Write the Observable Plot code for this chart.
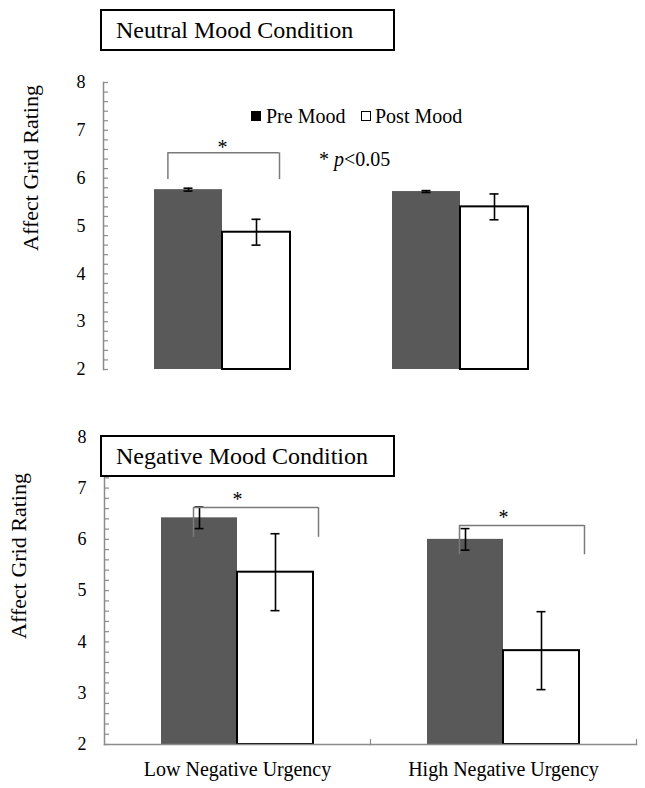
<!DOCTYPE html>
<html><head><meta charset="utf-8">
<script src="https://cdn.jsdelivr.net/npm/d3@7"></script>
<script src="https://cdn.jsdelivr.net/npm/@observablehq/plot@0.6"></script>
<style>
body{margin:0;background:#fff;font-family:"Liberation Serif","Times New Roman",serif;color:#000}
#wrap{position:relative;width:645px;height:788px;overflow:hidden;background:#fff;font-family:"Liberation Serif","Times New Roman",serif}
.panel{position:absolute;left:0}
.panel text{font-family:"Liberation Serif","Times New Roman",serif}
.box{position:absolute;border:2px solid #000;background:#fff;box-sizing:border-box;display:flex;align-items:center;padding-left:14px;font-size:24px;white-space:nowrap;font-family:"Liberation Serif","Times New Roman",serif}
.ylab{position:absolute;font-size:22px;line-height:22px;white-space:nowrap;transform:translate(-50%,-50%) rotate(-90deg);font-family:"Liberation Serif","Times New Roman",serif}
.note{position:absolute;font-size:20px;line-height:20px;white-space:nowrap;font-family:"Liberation Serif","Times New Roman",serif}
.sw{position:absolute;box-sizing:border-box}
</style></head><body>
<div id="wrap"></div>
<script>
// ---- data ----
const groups = ["Low Negative Urgency", "High Negative Urgency"];
const series = ["Pre Mood", "Post Mood"];
const yDomain = [2, 8];
const yTickLabels = [2, 3, 4, 5, 6, 7, 8];

const neutralPre = [5.76, 5.72];
const neutralPreErr = [0.03, 0.02];
const neutralPost = [4.87, 5.40];
const neutralPostErr = [0.27, 0.27];

const negativePre = [6.42, 6.00];
const negativePreErr = [0.21, 0.21];
const negativePost = [5.36, 3.83];
const negativePostErr = [0.75, 0.76];

const neutralBrackets = [
  {group: groups[0], from: series[0], to: series[1], top: 6.53, foot: 5.97}
];
const negativeBrackets = [
  {group: groups[0], from: series[0], to: series[1], top: 6.62, foot: 6.04},
  {group: groups[1], from: series[0], to: series[1], top: 6.27, foot: 5.70}
];

const titles = ["Neutral Mood Condition", "Negative Mood Condition"];
const yLabel = "Affect Grid Rating";
const sigNote = "p<0.05";

function rowsOf(pre, preErr, post, postErr) {
  return groups.flatMap((g, i) => [
    {group: g, series: series[0], value: pre[i], err: preErr[i]},
    {group: g, series: series[1], value: post[i], err: postErr[i]}
  ]);
}

const serif = '"Liberation Serif","Times New Roman",serif';
const axisGray = "#8c8c8c";
const bracketGray = "#7a7a7a";

function panel(o) {
  const rows = o.rows;
  const marks = [
    Plot.barY(rows, {filter: d => d.series === series[0], fx: "group", x: "series", y1: yDomain[0], y2: "value", fill: "#595959"}),
    Plot.barY(rows, {filter: d => d.series === series[1], fx: "group", x: "series", y1: yDomain[0], y2: "value", fill: "#fff", stroke: "#000", strokeWidth: 2}),
    Plot.ruleX(rows, {fx: "group", x: "series", y1: d => d.value - d.err, y2: d => d.value + d.err, stroke: "#000", strokeWidth: 1.6}),
    Plot.tickY(rows, {fx: "group", x: "series", y: d => d.value - d.err, insetLeft: o.capInset, insetRight: o.capInset, stroke: "#000", strokeWidth: 1.6}),
    Plot.tickY(rows, {fx: "group", x: "series", y: d => d.value + d.err, insetLeft: o.capInset, insetRight: o.capInset, stroke: "#000", strokeWidth: 1.6}),
    Plot.ruleY(o.brackets, {fx: "group", x1: "from", x2: "to", y: "top", insetLeft: o.bInL, insetRight: o.bInR, stroke: bracketGray, strokeWidth: 1.5}),
    Plot.ruleX(o.brackets, {fx: "group", x: "from", y1: "foot", y2: "top", dx: o.legL, stroke: bracketGray, strokeWidth: 1.5}),
    Plot.ruleX(o.brackets, {fx: "group", x: "to", y1: "foot", y2: "top", dx: o.legR, stroke: bracketGray, strokeWidth: 1.5}),
    Plot.text(o.brackets, {fx: "group", y: "top", text: () => "*", dy: o.starDy, fontSize: 20, fontFamily: serif}),
    Plot.frame({anchor: "left", facetAnchor: "left", stroke: axisGray, strokeWidth: 1.5}),
    Plot.axisY({ticks: 30, tickSize: 5, dx: 5, tickFormat: () => "", stroke: axisGray, strokeWidth: 1.2, label: null}),
    Plot.axisY({ticks: yTickLabels, tickSize: 0, tickPadding: 18, tickFormat: d => String(d), fontSize: 18, fontFamily: serif, label: null})
  ];
  if (o.xAxis) {
    marks.push(
      Plot.frame({anchor: "bottom", stroke: axisGray, strokeWidth: 1.5}),
      Plot.frame({anchor: "right", insetTop: 394 - o.marginTop - o.marginBottom - 5, stroke: axisGray, strokeWidth: 1.2}),
      Plot.axisFx({anchor: "bottom", tickSize: 0, tickPadding: 17, fontSize: 20, fontFamily: serif, label: null})
    );
  }
  return Plot.plot({
    width: 645, height: 394,
    marginTop: o.marginTop, marginBottom: o.marginBottom, marginLeft: 103, marginRight: o.marginRight,
    style: {fontFamily: serif, fontSize: "18px", color: "#000", background: "transparent", overflow: "visible"},
    fx: {domain: groups, padding: 0, label: null, ...(o.xAxis ? {} : {axis: null})},
    x: {domain: series, paddingInner: 0, paddingOuter: o.xPad, axis: null, label: null},
    y: {domain: yDomain, label: null},
    marks
  });
}

const wrap = document.getElementById("wrap");

const topPanel = panel({
  rows: rowsOf(neutralPre, neutralPreErr, neutralPost, neutralPostErr),
  brackets: neutralBrackets,
  marginTop: 82, marginBottom: 25, marginRight: 66, xPad: 0.737,
  capInset: 29.5, bInL: 13.7, bInR: 11.2, legL: -20.6, legR: 23, starDy: -5, xAxis: false
});
topPanel.classList.add("panel"); topPanel.style.top = "0px";
wrap.appendChild(topPanel);

const bottomPanel = panel({
  rows: rowsOf(negativePre, negativePreErr, negativePost, negativePostErr),
  brackets: negativeBrackets,
  marginTop: 42.3, marginBottom: 44, marginRight: 9, xPad: 0.749,
  capInset: 33.5, bInL: 32, bInR: -5, legL: -6, legR: 43, starDy: -8, xAxis: true
});
bottomPanel.classList.add("panel"); bottomPanel.style.top = "394px";
wrap.appendChild(bottomPanel);

function el(tag, cls, css, text) {
  const e = document.createElement(tag);
  if (cls) e.className = cls;
  Object.assign(e.style, css);
  if (text != null) e.textContent = text;
  wrap.appendChild(e);
  return e;
}

// title boxes
el("div", "box", {left: "100px", top: "9px", width: "295px", height: "42px"}, titles[0]);
el("div", "box", {left: "100px", top: "435px", width: "295px", height: "42px"}, titles[1]);

// y labels
el("div", "ylab", {left: "31px", top: "168px"}, yLabel);
el("div", "ylab", {left: "19px", top: "556px"}, yLabel);

// legend
el("div", "sw", {left: "251px", top: "111px", width: "10px", height: "10px", background: "#000"});
el("div", "note", {left: "266px", top: "105.5px"}, series[0]);
el("div", "sw", {left: "361px", top: "111px", width: "10px", height: "10px", border: "1px solid #000", background: "#fff"});
el("div", "note", {left: "375px", top: "105.5px"}, series[1]);

// significance note
const sig = el("div", "note", {left: "319px", top: "149px"});
sig.appendChild(document.createTextNode("* "));
const it = document.createElement("i"); it.textContent = sigNote.slice(0, 1); sig.appendChild(it);
sig.appendChild(document.createTextNode(sigNote.slice(1)));
</script>
</body></html>
